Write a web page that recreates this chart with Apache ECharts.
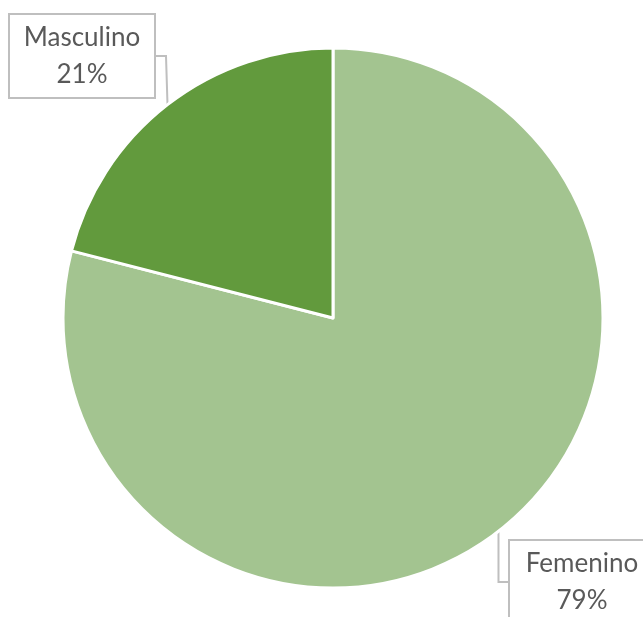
<!DOCTYPE html>
<html>
<head>
<meta charset="utf-8">
<script src="https://cdn.jsdelivr.net/npm/echarts@6/dist/echarts.min.js"></script>
<style>
  html, body { margin: 0; padding: 0; background: #fff; }
  #chart { width: 643px; height: 617px; }
</style>
</head>
<body>
<div id="chart"></div>
<script>
// datos del gráfico
const categories = ['Femenino', 'Masculino'];
const values = [79, 21];
const colors = ['#A3C490', '#629A3D'];

// posiciones de las etiquetas (centro de la caja)
const labelPos = [
  { x: 582, y: 582 },
  { x: 82, y: 56 }
];

const chart = echarts.init(document.getElementById('chart'));

const option = {
  animation: false,
  series: [{
    type: 'pie',
    center: [333, 318],
    radius: 270,
    startAngle: 90,
    clockwise: true,
    data: categories.map((name, i) => ({
      name: name,
      value: values[i],
      itemStyle: { color: colors[i] }
    })),
    itemStyle: {
      borderColor: '#fff',
      borderWidth: 3
    },
    label: {
      show: true,
      position: 'outside',
      formatter: '{b}\n{c}%',
      fontFamily: 'Lato, Liberation Sans, sans-serif',
      fontSize: 26,
      lineHeight: 37,
      color: '#595959',
      align: 'center',
      width: 124,
      overflow: 'none',
      backgroundColor: '#fff',
      borderColor: '#bfbfbf',
      borderWidth: 2,
      padding: [4, 10, 4, 10]
    },
    labelLine: {
      show: true,
      length: 10,
      length2: 10,
      lineStyle: { color: '#bfbfbf', width: 2 }
    },
    labelLayout: function (params) {
      const p = labelPos[params.dataIndex];
      return {
        x: p.x,
        y: p.y,
        align: 'center',
        verticalAlign: 'middle'
      };
    }
  }]
};

chart.setOption(option);
</script>
</body>
</html>
